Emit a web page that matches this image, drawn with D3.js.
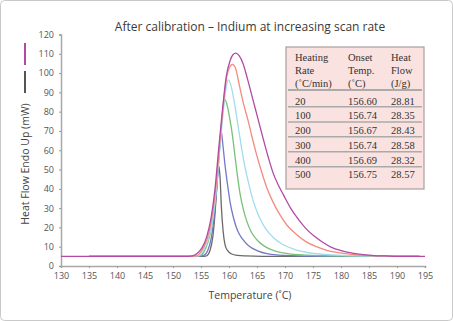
<!DOCTYPE html>
<html>
<head>
<meta charset="utf-8">
<script src="https://cdn.jsdelivr.net/npm/d3@7"></script>
<style>
  html, body { margin: 0; padding: 0; background: #fff; }
  svg { display: block; }
</style>
</head>
<body>
<svg id="chart" width="453" height="321"></svg>
<script>
// ---------- DATA ----------
const xTicks = [130, 135, 140, 145, 150, 155, 160, 165, 170, 175, 180, 185, 190, 195];
const yTicks = [0, 10, 20, 30, 40, 50, 60, 70, 80, 90, 100, 110, 120];

const seriesNames = ["20", "100", "200", "300", "400", "500"];

const t20 = [135, 140, 145, 150, 155, 156, 156.6, 157.1, 157.5, 157.85, 158.15, 158.4, 158.65, 158.95, 159.3, 159.8, 160.5, 161.5, 163, 166, 172, 180, 188, 194];
const v20 = [5, 5, 5, 5, 5, 5.3, 8, 15, 27, 42, 52, 46, 30, 18, 11, 7.8, 6.2, 5.5, 5.2, 5, 5, 5, 5, 5];

const t100 = [135, 140, 145, 150, 154.5, 155.5, 156.2, 156.8, 157.3, 157.8, 158.2, 158.6, 158.9, 159.3, 159.7, 160.2, 160.8, 161.5, 162.4, 163.5, 165, 167, 170, 175, 182, 190, 194];
const v100 = [5, 5, 5, 5, 5, 5.5, 8, 14, 24, 40, 57, 70, 63, 52, 43, 33, 25, 18.5, 14, 10.5, 8, 6.3, 5.5, 5.1, 5, 5, 5];

const t200 = [135, 140, 145, 150, 154, 155, 155.8, 156.5, 157.2, 157.8, 158.3, 158.8, 159.25, 159.7, 160.1, 160.6, 161, 161.5, 162, 162.6, 163.2, 164, 165, 166.3, 168, 170.5, 174, 178, 184, 190, 194];
const v200 = [5, 5, 5, 5, 5, 5.6, 9, 15, 26, 42, 60, 78, 86.4, 83, 77, 68, 58.5, 47, 37, 29, 23, 17.5, 13.5, 10.3, 8, 6.4, 5.6, 5.2, 5, 5, 5];

const t300 = [135, 140, 145, 150, 153.5, 154.6, 155.4, 156.2, 156.9, 157.6, 158.2, 158.8, 159.4, 159.9, 160.4, 161, 161.6, 162.2, 162.8, 163.5, 164.3, 165.3, 166.5, 168, 169.7, 171.5, 174, 177, 181, 185, 190, 194];
const v300 = [5, 5, 5, 5, 5, 5.4, 8, 13, 21, 36, 55, 75, 91, 96.5, 93, 84, 73, 62, 52, 43, 34, 26, 19.5, 14.5, 11, 8.8, 7, 6, 5.4, 5.1, 5, 5];

const t400 = [135, 140, 145, 150, 153, 154.2, 155, 155.7, 156.4, 157.1, 157.8, 158.4, 159, 159.6, 160.1, 160.6, 161.1, 161.9, 162.6, 163.4, 164.1, 164.9, 165.7, 166.7, 167.8, 169, 170.4, 172, 173.8, 175.6, 177.6, 179.8, 182, 185, 188, 191, 194];
const v400 = [5, 5, 5, 5, 5, 5.3, 7.5, 11, 17, 28, 45, 65, 84, 98, 103, 104.5, 103, 93, 84, 75.5, 67, 58, 50, 41, 33.5, 27, 21, 16.5, 12.5, 10, 8, 6.8, 6, 5.4, 5.2, 5, 5];

const t500 = [130, 135, 140, 145, 150, 152, 153.5, 154.5, 155.2, 156, 156.8, 157.5, 158.2, 158.8, 159.5, 160.2, 160.7, 161.2, 161.8, 162.5, 163.3, 164.2, 165.2, 166.1, 167, 167.9, 168.8, 169.7, 171, 172.3, 173.7, 175.2, 176.8, 178.3, 180, 182, 184, 186, 188, 190, 192, 195];
const v500 = [5, 5, 5, 5, 5, 5, 5.3, 7, 9.5, 15, 25, 40, 62, 80, 98, 106.5, 109.5, 110.3, 109, 105, 97, 87, 76, 66, 56.5, 48, 42, 37, 30, 24.5, 19.5, 15.5, 12.2, 9.7, 8, 6.7, 5.9, 5.4, 5.2, 5, 5, 5];

const seriesColors = ["#6a6a6a", "#7478c6", "#78c278", "#a2dcee", "#f58a7e", "#b24aa4"];

// Table data
const tableHeaders = [["Heating", "Rate", "(˚C/min)"], ["Onset", "Temp.", "(˚C)"], ["Heat", "Flow", "(J/g)"]];
const rates = ["20", "100", "200", "300", "400", "500"];
const onsetTemps = ["156.60", "156.74", "156.67", "156.74", "156.69", "156.75"];
const heatFlows = ["28.81", "28.35", "28.43", "28.58", "28.32", "28.57"];

// ---------- CHART ----------
const svg = d3.select("#chart");
const seriesT = [t20, t100, t200, t300, t400, t500];
const seriesV = [v20, v100, v200, v300, v400, v500];

// outer frame
svg.append("rect").attr("x", 0.5).attr("y", 0.5).attr("width", 452).attr("height", 320)
  .attr("rx", 4).attr("fill", "#fff").attr("stroke", "#c9c9c9").attr("stroke-width", 1);

const x = d3.scaleLinear().domain([130, 195]).range([61, 425]);
const y = d3.scaleLinear().domain([0, 120]).range([266, 34.5]);

const font = "'Open Sans', 'Noto Sans', sans-serif";

// title
svg.append("text").attr("x", 250).attr("y", 31).attr("text-anchor", "middle")
  .attr("font-family", font).attr("font-size", 12).attr("fill", "#3a3a3a")
  .text("After calibration – Indium at increasing scan rate");

// axes
const xAxis = svg.append("g").attr("transform", `translate(0,${y(0)})`)
  .call(d3.axisBottom(x).tickValues(xTicks).tickSize(2).tickPadding(5).tickFormat(d3.format("d")));
const yAxis = svg.append("g").attr("transform", `translate(${x(130)},0)`)
  .call(d3.axisLeft(y).tickValues(yTicks).tickSize(2).tickPadding(5).tickFormat(d3.format("d")));
[xAxis, yAxis].forEach(g => {
  g.select(".domain").attr("stroke", "#a8a8a8").attr("stroke-width", 1.5);
  g.selectAll(".tick line").attr("stroke", "#999");
  g.selectAll(".tick text").attr("font-family", font).attr("font-size", 9).attr("fill", "#555");
});

// axis labels
svg.append("text").attr("x", 250).attr("y", 299).attr("text-anchor", "middle")
  .attr("font-family", font).attr("font-size", 10.5).attr("fill", "#444")
  .text("Temperature (˚C)");
svg.append("text").attr("transform", "translate(29,164) rotate(-90)").attr("text-anchor", "middle")
  .attr("font-family", font).attr("font-size", 10.5).attr("fill", "#444")
  .text("Heat Flow Endo Up (mW)");

// legend-like marks on left
svg.append("line").attr("x1", 25).attr("x2", 25).attr("y1", 43).attr("y2", 65)
  .attr("stroke", "#b24aa4").attr("stroke-width", 2);
svg.append("line").attr("x1", 25).attr("x2", 25).attr("y1", 71).attr("y2", 93)
  .attr("stroke", "#555").attr("stroke-width", 2);

// lines
const line = d3.line().x(d => x(d[0])).y(d => y(d[1])).curve(d3.curveMonotoneX);
seriesNames.forEach((name, i) => {
  const pts = seriesT[i].map((t, j) => [t, seriesV[i][j]]);
  svg.append("path").datum(pts).attr("d", line)
    .attr("fill", "none").attr("stroke", seriesColors[i]).attr("stroke-width", 1.3);
});

// table
const tb = { x: 286, y: 47, w: 138, h: 142 };
const tg = svg.append("g");
tg.append("rect").attr("x", tb.x).attr("y", tb.y).attr("width", tb.w).attr("height", tb.h)
  .attr("fill", "#f9e2e0").attr("stroke", "#a89e9e").attr("stroke-width", 1.2);
const colX = [295, 348, 391];
const serif = "'Liberation Serif', 'DejaVu Serif', serif";
const headY = [57.5, 70.3, 83];
tableHeaders.forEach((col, c) => {
  col.forEach((txt, r) => {
    tg.append("text").attr("x", colX[c]).attr("y", headY[r]).attr("dy", "0.35em")
      .attr("font-family", serif).attr("font-size", 10.5).attr("fill", "#333").text(txt);
  });
});
const rowY = d3.scaleLinear().domain([0, 5]).range([101, 174.7]);
const sepY = [90, 106.7, 122, 136.7, 151.7, 166.7];
sepY.forEach((sy, i) => {
  tg.append("line").attr("x1", tb.x + 2).attr("x2", tb.x + tb.w - 2).attr("y1", sy).attr("y2", sy)
    .attr("stroke", "#aaa").attr("stroke-width", i === 0 ? 2 : 1.4);
});
rates.forEach((r, i) => {
  const yy = rowY(i);
  [r, onsetTemps[i], heatFlows[i]].forEach((txt, c) => {
    tg.append("text").attr("x", colX[c]).attr("y", yy).attr("dy", "0.35em")
      .attr("font-family", serif).attr("font-size", 10.5).attr("fill", "#333").text(txt);
  });
});
</script>
</body>
</html>
